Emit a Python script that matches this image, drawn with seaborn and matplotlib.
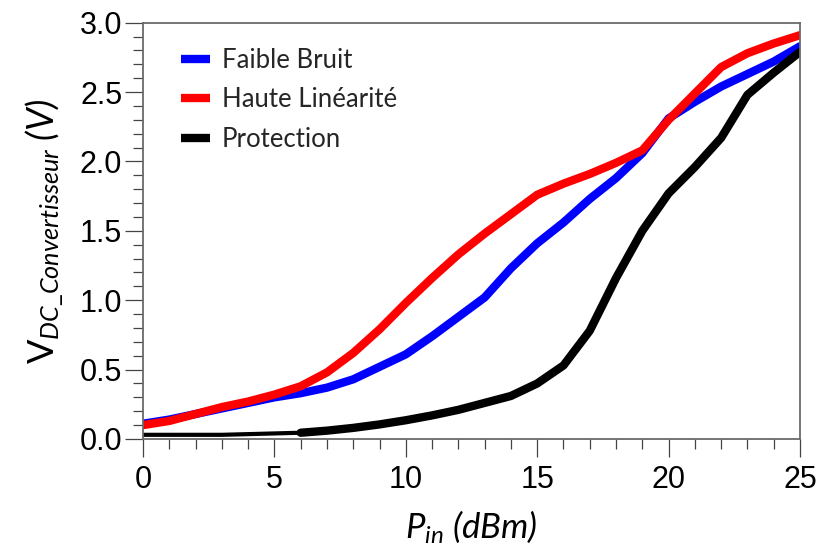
import numpy as np
import pandas as pd
import matplotlib
matplotlib.use("Agg")
import matplotlib.pyplot as plt
import seaborn as sns

# Puissance d'entrée (dBm)
pin = np.arange(0, 26)

# Tension DC du convertisseur (V)
faible_bruit = [0.11, 0.14, 0.18, 0.22, 0.26, 0.30, 0.33, 0.37, 0.43, 0.52,
                0.61, 0.74, 0.88, 1.02, 1.23, 1.41, 1.56, 1.73, 1.88, 2.06,
                2.31, 2.43, 2.54, 2.63, 2.72, 2.83]
haute_linearite = [0.10, 0.13, 0.18, 0.23, 0.27, 0.32, 0.38, 0.48, 0.62, 0.79,
                   0.98, 1.16, 1.33, 1.48, 1.62, 1.76, 1.84, 1.91, 1.99, 2.08,
                   2.30, 2.49, 2.68, 2.78, 2.85, 2.91]
protection = [0.03, 0.03, 0.03, 0.03, 0.035, 0.04, 0.045, 0.06, 0.08, 0.105,
              0.135, 0.17, 0.21, 0.26, 0.31, 0.40, 0.53, 0.78, 1.16, 1.50,
              1.77, 1.96, 2.17, 2.48, 2.64, 2.79]

labels = ["Faible Bruit", "Haute Linéarité", "Protection"]
colors = ["#0000ff", "#ff0000", "#000000"]

sns.set_style("ticks")
plt.rcParams["font.family"] = ["Liberation Sans", "DejaVu Sans"]
plt.rcParams["mathtext.fontset"] = "custom"
plt.rcParams["mathtext.rm"] = "Lato"
plt.rcParams["mathtext.it"] = "Lato:italic"

fig = plt.figure(figsize=(8.21, 5.51), dpi=100)
ax = fig.add_axes([0.1742, 0.2033, 0.8002, 0.7555])

sns.lineplot(x=pin, y=faible_bruit, color=colors[0], lw=6, ax=ax, label=labels[0])
sns.lineplot(x=pin, y=haute_linearite, color=colors[1], lw=6, ax=ax, label=labels[1])
# la partie basse de la courbe "Protection" est tracée plus fine
sns.lineplot(x=pin[:7], y=protection[:7], color=colors[2], lw=3, ax=ax)
sns.lineplot(x=pin[6:], y=protection[6:], color=colors[2], lw=6, ax=ax, label=labels[2])

ax.set_xlim(0, 25)
ax.set_ylim(0, 3.0)
ax.set_xticks(np.arange(0, 26, 5))
ax.set_xticks(np.arange(0, 26, 1), minor=True)
ax.set_yticks(np.arange(0, 3.01, 0.5))
ax.set_yticks(np.arange(0, 3.01, 0.1), minor=True)
ax.set_yticklabels([f"{v:.1f}" for v in np.arange(0, 3.01, 0.5)])

for s in ax.spines.values():
    s.set_color("#6a6a6a")
    s.set_linewidth(1.3)
ax.tick_params(which="major", direction="out", length=13, width=0.9,
               color="#444444", labelcolor="black", labelsize=22, pad=2)
ax.tick_params(axis="x", which="major", pad=6)
ax.tick_params(which="minor", direction="out", length=7, width=0.9, color="#444444")

ax.set_xlabel(r"$P_{in}$ (dBm)", fontsize=25, fontstyle="italic",
              family="Lato", color="black", labelpad=9)
ax.set_ylabel(r"$\mathrm{V}_{DC\_Convertisseur}$ (V)", fontsize=26,
              fontstyle="italic", family="Lato", color="black", labelpad=9)

leg = ax.legend(loc="upper left", bbox_to_anchor=(0.042, 0.965), frameon=False,
                handlelength=1.13, handletextpad=0.47, labelspacing=0.58,
                borderaxespad=0, prop={"family": "Lato", "size": 18.5})
for h in leg.get_lines():
    h.set_linewidth(6)
    h.set_solid_capstyle("butt")

fig.savefig("out.png", dpi=100)
